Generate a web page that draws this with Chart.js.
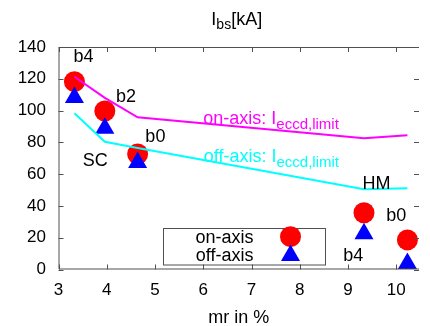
<!DOCTYPE html>
<html>
<head>
<meta charset="utf-8">
<script src="https://cdn.jsdelivr.net/npm/chart.js@4/dist/chart.umd.min.js"></script>
<style>
  body { margin: 0; background: #fff; }
  canvas { display: block; }
</style>
</head>
<body>
<canvas id="ibs" width="430" height="326"></canvas>
<script>
/* mr positions and currents [kA] */
var mr = [3.33, 3.96, 4.64, 9.33, 10.23];
var onAxis = [118.2, 99.7, 72.7, 35.7, 18.6];
var offAxis = [108.3, 88.9, 67.3, 22.5, 3.8];
var onLimit = [121.3, 108, 95.8, 82.6, 84.4];
var offLimit = [98.3, 80.4, 76.5, 50.5, 51.1];
var caseLabels = ['b4', 'b2', 'b0', 'SC', 'HM', 'b0', 'b4'];

function pts(xs, ys) {
    return xs.map(function (x, i) { return {x: x, y: ys[i]}; });
}

var FONT = 'Liberation Sans';
var FRAME = '#505050';

/* text with a subscript: parts = [[text, size, dy], ...] */
function richText(ctx, parts, x, y, color, align) {
    var w = 0;
    parts.forEach(function (p) { ctx.font = p[1] + 'px "' + FONT + '"'; w += ctx.measureText(p[0]).width; });
    if (align === 'center') x -= w / 2;
    if (align === 'right') x -= w;
    ctx.fillStyle = color;
    ctx.textAlign = 'left';
    ctx.textBaseline = 'alphabetic';
    parts.forEach(function (p) {
        ctx.font = p[1] + 'px "' + FONT + '"';
        ctx.fillText(p[0], x, y + (p[2] || 0));
        x += ctx.measureText(p[0]).width;
    });
}

var decor = {
    id: 'decor',
    afterDatasetsDraw: function (chart) {
        var ctx = chart.ctx, a = chart.chartArea;
        var xs = chart.scales.x, ys = chart.scales.y;
        ctx.save();
        // frame (right edge falls off the canvas) with inward ticks
        ctx.strokeStyle = FRAME;
        ctx.lineWidth = 1;
        ctx.beginPath();
        ctx.moveTo(a.left + 0.5, a.top + 0.5);
        ctx.lineTo(a.left + 0.5, a.bottom - 0.5);
        ctx.lineTo(a.right, a.bottom - 0.5);
        ctx.moveTo(a.left + 0.5, a.top + 0.5);
        ctx.lineTo(a.right, a.top + 0.5);
        xs.ticks.forEach(function (t) {
            var px = Math.round(xs.getPixelForValue(t.value)) + 0.5;
            ctx.moveTo(px, a.bottom); ctx.lineTo(px, a.bottom - 5);
            ctx.moveTo(px, a.top); ctx.lineTo(px, a.top + 5);
        });
        ys.ticks.forEach(function (t) {
            var py = Math.round(ys.getPixelForValue(t.value)) + 0.5;
            ctx.moveTo(a.left, py); ctx.lineTo(a.left + 5, py);
            ctx.moveTo(a.right, py); ctx.lineTo(a.right - 5, py);
        });
        ctx.stroke();

        // case labels
        var where = [[3.31, 130.5], [4.19, 105.6], [4.80, 80.4], [3.50, 65.3],
                     [9.30, 50.7], [9.79, 30.3], [8.90, 5.2]];
        caseLabels.forEach(function (txt, i) {
            richText(ctx, [[txt, 18]], xs.getPixelForValue(where[i][0]),
                     ys.getPixelForValue(where[i][1]), '#000', 'left');
        });
        richText(ctx, [['on-axis: I', 18], ['eccd,limit', 15, 5]],
                 xs.getPixelForValue(6.0), ys.getPixelForValue(91.6), '#ff00ff', 'left');
        richText(ctx, [['off-axis: I', 18], ['eccd,limit', 15, 5]],
                 xs.getPixelForValue(6.01), ys.getPixelForValue(67.8), '#00ffff', 'left');

        // title and axis label
        var cx = (a.left + a.right) / 2;
        richText(ctx, [['I', 18], ['bs', 14, 3.5], ['[kA]', 18]], cx - 2, 25, '#000', 'center');
        richText(ctx, [['mr in %', 18]], cx, 323, '#000', 'center');

        // key box
        ctx.strokeStyle = FRAME;
        ctx.strokeRect(163.5, 228.5, 162, 36.5);
        richText(ctx, [['on-axis', 18]], 253.5, 242.5, '#000', 'right');
        richText(ctx, [['off-axis', 18]], 253.5, 261, '#000', 'right');
        ctx.fillStyle = '#ff0000';
        ctx.beginPath(); ctx.arc(290.5, 236.7, 10.5, 0, Math.PI * 2); ctx.fill();
        ctx.fillStyle = '#0000ff';
        var r = 11, tx = 290.5, ty = 255.4;
        ctx.beginPath();
        ctx.moveTo(tx, ty - r);
        ctx.lineTo(tx + r * Math.sin(2 * Math.PI / 3), ty - r * Math.cos(2 * Math.PI / 3));
        ctx.lineTo(tx + r * Math.sin(4 * Math.PI / 3), ty - r * Math.cos(4 * Math.PI / 3));
        ctx.closePath(); ctx.fill();
        ctx.restore();
    }
};

var tickFont = {family: FONT, size: 17};

var ctx = document.getElementById('ibs').getContext('2d');
var myChart = new Chart(ctx, {
    type: 'scatter',
    data: {
        datasets: [{
            label: 'on-axis: Ieccd,limit',
            data: pts(mr, onLimit),
            showLine: true,
            borderColor: '#ff00ff',
            borderWidth: 2,
            pointRadius: 0,
            order: 0
        }, {
            label: 'off-axis: Ieccd,limit',
            data: pts(mr, offLimit),
            showLine: true,
            borderColor: '#00ffff',
            borderWidth: 2,
            pointRadius: 0,
            order: 0
        }, {
            label: 'off-axis',
            data: pts(mr, offAxis),
            pointStyle: 'triangle',
            pointRadius: 11,
            pointBackgroundColor: '#0000ff',
            pointBorderWidth: 0,
            order: 1
        }, {
            label: 'on-axis',
            data: pts(mr, onAxis),
            pointStyle: 'circle',
            pointRadius: 10.5,
            pointBackgroundColor: '#ff0000',
            pointBorderWidth: 0,
            order: 2
        }]
    },
    options: {
        responsive: false,
        animation: false,
        layout: {padding: {top: 47, left: 0, right: 0, bottom: 0}},
        plugins: {
            legend: {display: false},
            tooltip: {enabled: false}
        },
        scales: {
            x: {
                type: 'linear',
                min: 3,
                max: 10.47,
                afterFit: function (s) { s.height = 56.5; },
                grid: {display: false, drawTicks: false},
                border: {display: false},
                ticks: {stepSize: 1, includeBounds: false, padding: 11, color: '#000', font: tickFont}
            },
            y: {
                min: 0,
                max: 140,
                afterFit: function (s) { s.width = 58.5; },
                grid: {display: false, drawTicks: false},
                border: {display: false},
                ticks: {stepSize: 20, padding: 12.5, color: '#000', font: tickFont}
            }
        }
    },
    plugins: [decor]
});
</script>
</body>
</html>
